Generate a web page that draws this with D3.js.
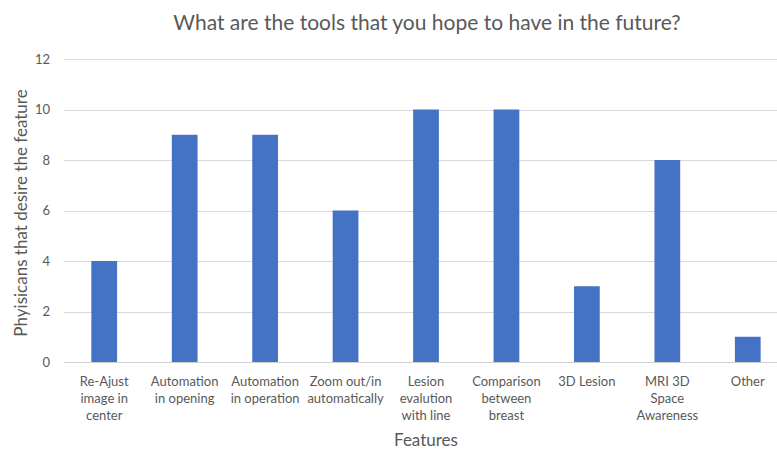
<!DOCTYPE html>
<html>
<head>
<meta charset="utf-8">
<title>Tools hoped for</title>
<script src="https://d3js.org/d3.v7.min.js"></script>
<style>
  body { margin: 0; background: #fff; }
  text { font-family: Lato, "Open Sans", sans-serif; fill: #595959; }
</style>
</head>
<body>
<svg width="777" height="449"></svg>
<script>
var categories = [
  ["Re-Ajust", "image in", "center"],
  ["Automation", "in opening"],
  ["Automation", "in operation"],
  ["Zoom out/in", "automatically"],
  ["Lesion", "evalution", "with line"],
  ["Comparison", "between", "breast"],
  ["3D Lesion"],
  ["MRI 3D", "Space", "Awareness"],
  ["Other"]
];
var values = [4, 9, 9, 6, 10, 10, 3, 8, 1];
var yTicks = [0, 2, 4, 6, 8, 10, 12];

var svg = d3.select("svg");
var plotLeft = 64, plotRight = 788, plotTop = 59, plotBottom = 362;

var x = d3.scaleBand().domain(d3.range(categories.length)).range([plotLeft, plotRight]).paddingInner(0.68).paddingOuter(0.34);
var y = d3.scaleLinear().domain([0, 12]).range([plotBottom, plotTop]);

// gridlines
svg.append("g").selectAll("line")
  .data(yTicks)
  .enter().append("line")
  .attr("x1", plotLeft).attr("x2", 777)
  .attr("y1", function(d) { return Math.round(y(d)) + 0.5; })
  .attr("y2", function(d) { return Math.round(y(d)) + 0.5; })
  .attr("stroke", function(d) { return d === 0 ? "#d0d0d0" : "#d9d9d9"; })
  .attr("stroke-width", 1);

// y tick labels
svg.append("g").selectAll("text")
  .data(yTicks)
  .enter().append("text")
  .attr("x", 50).attr("y", function(d) { return y(d) + 4.5; })
  .attr("text-anchor", "end")
  .attr("font-size", "13px")
  .text(function(d) { return d; });

// bars
svg.append("g").selectAll("rect")
  .data(values)
  .enter().append("rect")
  .attr("x", function(d, i) { return x(i); })
  .attr("y", function(d) { return y(d); })
  .attr("width", x.bandwidth())
  .attr("height", function(d) { return plotBottom - y(d); })
  .attr("fill", "#4472c4");

// category labels
var cat = svg.append("g").selectAll("text")
  .data(categories)
  .enter().append("text")
  .attr("text-anchor", "middle")
  .attr("font-size", "13px")
  .attr("x", function(d, i) { return x(i) + x.bandwidth() / 2; })
  .attr("y", 386);
cat.selectAll("tspan")
  .data(function(d) { return d; })
  .enter().append("tspan")
  .attr("x", function() { return d3.select(this.parentNode).attr("x"); })
  .attr("dy", function(d, i) { return i === 0 ? 0 : 17; })
  .text(function(d) { return d; });

// title
svg.append("text")
  .attr("x", 427).attr("y", 30)
  .attr("text-anchor", "middle")
  .attr("font-size", "21px")
  .text("What are the tools that you hope to have in the future?");

// axis titles
svg.append("text")
  .attr("x", 426).attr("y", 446)
  .attr("text-anchor", "middle")
  .attr("font-size", "17px")
  .text("Features");

svg.append("text")
  .attr("transform", "translate(27,213) rotate(-90)")
  .attr("text-anchor", "middle")
  .attr("font-size", "17px")
  .text("Phyisicans that desire the feature");
</script>
</body>
</html>
